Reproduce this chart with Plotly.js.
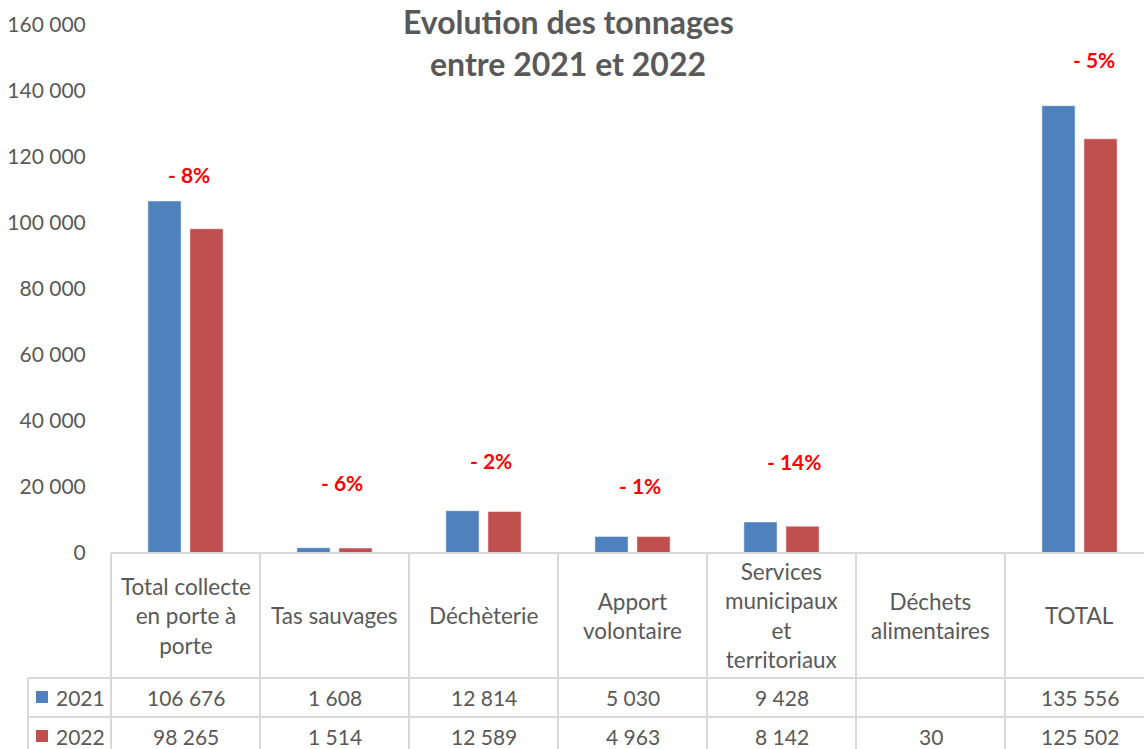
<!DOCTYPE html>
<html>
<head>
<meta charset="utf-8">
<script src="https://cdn.plot.ly/plotly-3.0.1.min.js"></script>
<style>
  html, body { margin: 0; padding: 0; overflow: hidden; background: #ffffff; }
  #chart { width: 1154px; height: 749px; }
</style>
</head>
<body>
<div id="chart"></div>
<script>
// ---- Data ----
const categories = [
  'Total collecte<br>en porte à<br>porte',
  'Tas sauvages',
  'Déchèterie',
  'Apport<br>volontaire',
  'Services<br>municipaux<br>et<br>territoriaux',
  'Déchets<br>alimentaires',
  'TOTAL'
];
const seriesNames = ['2021', '2022'];
const values2021 = [106676, 1608, 12814, 5030, 9428, null, 135556];
const values2022 = [98265, 1514, 12589, 4963, 8142, 30, 125502];
const pctLabels = ['- 8%', '- 6%', '- 2%', '- 1%', '- 14%', '', '- 5%'];
const yTickVals = [0, 20000, 40000, 60000, 80000, 100000, 120000, 140000, 160000];

// ---- Positions / styles (not data) ----
const pctLabelX = [0.023, 1.05, 2.05, 3.05, 4.09, null, 6.10];
const pctLabelY = [114800, 21500, 27900, 20600, 27600, null, 149400];
const colors = ['#4F81BD', '#C0504D'];
const textColor = '#595959';
const gridColor = '#D9D9D9';
const font = 'Lato, "Open Sans", sans-serif';

const W = 1154, H = 749;
const M = {l: 111, r: 0, t: 25, b: 196};
const plotW = W - M.l - M.r, plotH = H - M.t - M.b;
const px2paperX = px => (px - M.l) / plotW;
const px2paperY = py => (H - M.b - py) / plotH;

const fmt = n => (n === null || n === undefined) ? '' : String(n).replace(/\B(?=(\d{3})+(?!\d))/g, ' ');

const n = categories.length;
const xIdx = categories.map((_, i) => i);

const traces = [values2021, values2022].map((vals, k) => ({
  type: 'bar',
  name: seriesNames[k],
  x: xIdx,
  y: vals,
  marker: {color: colors[k], line: {color: 'rgba(255,255,255,0.5)', width: 1}},
  hoverinfo: 'x+y'
}));

// Table geometry
const headerBottom = px2paperY(678);
const row1Bottom = px2paperY(717);
const tableBottom = -0.5;
const legendLeft = px2paperX(28);

const lineStyle = {color: gridColor, width: 2};
const shapes = [];
shapes.push({type: 'line', xref: 'paper', yref: 'paper', x0: 0, x1: 1.01, y0: 0, y1: 0, line: lineStyle});
[headerBottom, row1Bottom].forEach(y => shapes.push({type: 'line', xref: 'paper', yref: 'paper', x0: legendLeft, x1: 1.01, y0: y, y1: y, line: lineStyle}));
for (let k = 0; k <= n; k++) {
  shapes.push({type: 'line', xref: 'paper', yref: 'paper', x0: k / n, x1: k / n, y0: 0, y1: tableBottom, line: lineStyle});
}
shapes.push({type: 'line', xref: 'paper', yref: 'paper', x0: legendLeft, x1: legendLeft, y0: headerBottom, y1: tableBottom, line: lineStyle});

// legend squares
const rowCenters = [px2paperY(697), px2paperY(736)];
rowCenters.forEach((yc, k) => {
  const half = 6 / plotH;
  shapes.push({type: 'rect', xref: 'paper', yref: 'paper',
    x0: px2paperX(36), x1: px2paperX(48), y0: yc - half, y1: yc + half,
    fillcolor: colors[k], line: {width: 0}});
});

const annotations = [];
// Title (two lines)
annotations.push({xref: 'paper', yref: 'paper', x: px2paperX(568), y: px2paperY(21), text: '<b>Evolution des tonnages</b>',
  showarrow: false, xanchor: 'center', yanchor: 'middle', font: {family: font, size: 32, color: textColor}});
annotations.push({xref: 'paper', yref: 'paper', x: px2paperX(568), y: px2paperY(64), text: '<b>entre 2021 et 2022</b>',
  showarrow: false, xanchor: 'center', yanchor: 'middle', font: {family: font, size: 32, color: textColor}});

// Percent labels
pctLabels.forEach((t, i) => {
  if (!t) return;
  annotations.push({xref: 'x', yref: 'y', x: pctLabelX[i], y: pctLabelY[i], text: '<b>' + t + '</b>',
    showarrow: false, xanchor: 'center', yanchor: 'middle', font: {family: font, size: 21, color: '#FF0000'}});
});

// Header row
const headerCenter = px2paperY(615.5);
categories.forEach((c, i) => {
  annotations.push({xref: 'paper', yref: 'paper', x: (i + 0.5) / n, y: headerCenter, text: c,
    showarrow: false, xanchor: 'center', yanchor: 'middle', align: 'center',
    font: {family: font, size: 22.5, color: textColor}});
});
// Value rows
[values2021, values2022].forEach((vals, k) => {
  annotations.push({xref: 'paper', yref: 'paper', x: px2paperX(54), y: rowCenters[k], text: seriesNames[k],
    showarrow: false, xanchor: 'left', yanchor: 'middle', font: {family: font, size: 21, color: textColor}});
  vals.forEach((v, i) => {
    if (v === null) return;
    annotations.push({xref: 'paper', yref: 'paper', x: (i + 0.5) / n, y: rowCenters[k], text: fmt(v),
      showarrow: false, xanchor: 'center', yanchor: 'middle', font: {family: font, size: 21, color: textColor}});
  });
});

const layout = {
  width: W, height: H,
  margin: M,
  autosize: false,
  paper_bgcolor: '#ffffff',
  plot_bgcolor: '#ffffff',
  separators: ', ',
  showlegend: false,
  barmode: 'group',
  bargap: 0.436,
  bargroupgap: 0.21,
  font: {family: font, color: textColor},
  xaxis: {
    type: 'linear', range: [-0.5, n - 0.5], showticklabels: false, ticks: '',
    showgrid: false, zeroline: false, showline: false, fixedrange: true
  },
  yaxis: {
    range: [0, 160000], tickvals: yTickVals, tickformat: ',d', separatethousands: true,
    showgrid: false, zeroline: false, showline: false,
    ticks: 'outside', ticklen: 20, tickcolor: 'rgba(0,0,0,0)',
    tickfont: {family: font, size: 21, color: textColor}, fixedrange: true
  },
  shapes: shapes,
  annotations: annotations
};

Plotly.newPlot('chart', traces, layout, {displayModeBar: false, staticPlot: true});
</script>
</body>
</html>
